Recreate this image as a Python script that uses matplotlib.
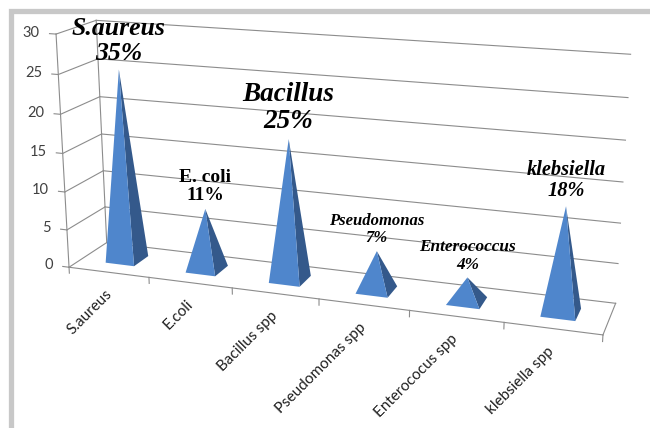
import matplotlib
matplotlib.use("Agg")
import matplotlib.pyplot as plt
from matplotlib.patches import Rectangle
from matplotlib.text import Text
from mpl_toolkits.mplot3d import proj3d
from mpl_toolkits.mplot3d.art3d import Poly3DCollection

# data
categories = ["S.aureus", "E.coli", "Bacillus spp", "Pseudomonas spp", "Enterococus spp", "klebsiella spp"]
counts = [25, 8, 18, 5, 3, 13]
label_names = ["S.aureus", "E. coli", "Bacillus", "Pseudomonas", "Enterococcus", "klebsiella"]
percents = [35, 11, 25, 7, 4, 18]
z_ticks = [0, 5, 10, 15, 20, 25, 30]

label_sizes = [18.5, 14, 19.5, 12, 12.4, 14.7]
label_italic = [True, False, True, True, True, True]

fig = plt.figure(figsize=(6.5, 4.28), dpi=100)
ax = fig.add_axes([2 / 650, 41 / 428, 1, 1], projection="3d")
depth = 0.9
ax.set_proj_type("persp", focal_length=0.6)
ax.view_init(elev=16, azim=-71)
ax.set_box_aspect((6, depth, 2.67), zoom=1.41)
ax.set_axis_off()

n = len(categories)
xmin, xmax = -0.5, n - 0.5
ax.set_xlim(xmin, xmax)
ax.set_ylim(0, depth)
ax.set_zlim(0, 30)

# projection matrix, used to put flat texts at 3d positions
M = ax.get_proj()


def text_at(x, y, z, s, **kw):
    px, py, _ = proj3d.proj_transform(x, y, z, M)
    return ax.text2D(px, py, s, transform=ax.transData, **kw)


grid = dict(color="#8c8c8c", lw=0.8, clip_on=False)
# back wall and left wall gridlines
for t in z_ticks:
    ax.plot([xmin, xmax], [depth, depth], [t, t], **grid)
    ax.plot([xmin, xmin], [0, depth], [t, t], **grid)
    ax.plot([xmin - 0.08, xmin], [0, 0], [t, t], **grid)
    text_at(xmin - 0.2, 0, t, str(t), ha="right", va="center",
            fontsize=10.5, color="#404040", family="Lato")
ax.plot([xmin, xmin], [0, 0], [0, 30], **grid)
ax.plot([xmin, xmin], [depth, depth], [0, 30], **grid)
# floor outline
ax.plot([xmin, xmax], [0, 0], [0, 0], **grid)
ax.plot([xmax, xmax], [0, depth], [0, 0], **grid)
for b in range(n + 1):
    ax.plot([xmin + b, xmin + b], [0, 0], [0, -0.8], **grid)

# pyramids
w = 0.36
yc = depth / 2
faces, colors = [], []
for i, v in enumerate(counts):
    x0, x1 = i - w / 2, i + w / 2
    y0, y1 = yc - w / 2, yc + w / 2
    top = (i, yc, v)
    faces.append([(x0, y0, 0), (x1, y0, 0), top])
    colors.append("#4f86cc")
    faces.append([(x1, y0, 0), (x1, y1, 0), top])
    colors.append("#34598b")
pyr = Poly3DCollection(faces, facecolors=colors, edgecolors="none")
pyr.set_clip_on(False)
ax.add_collection3d(pyr)

# data labels
for i, v in enumerate(counts):
    style = "italic" if label_italic[i] else "normal"
    text_at(i, yc, v + 0.6, f"{label_names[i]}\n{percents[i]}%", ha="center", va="bottom",
            fontsize=label_sizes[i], fontweight="bold", fontstyle=style,
            family="Liberation Serif", linespacing=1.1, zorder=10)

# category labels
for i, c in enumerate(categories):
    text_at(i, 0, -2.6, c, rotation=45, ha="right", va="center",
            rotation_mode="anchor", fontsize=11, color="#202020", family="Lato")

# hide the empty texts left over from the hidden 3d axes
for t in ax.findobj(Text):
    if t.get_text() == "":
        t.set_visible(False)

fig.add_artist(Rectangle((11 / 650, -0.5), 2, 1.5 - 11 / 428,
                         transform=fig.transFigure, fill=False, ec="#c8c8c8", lw=3.8))

fig.savefig("out.png", dpi=100)
